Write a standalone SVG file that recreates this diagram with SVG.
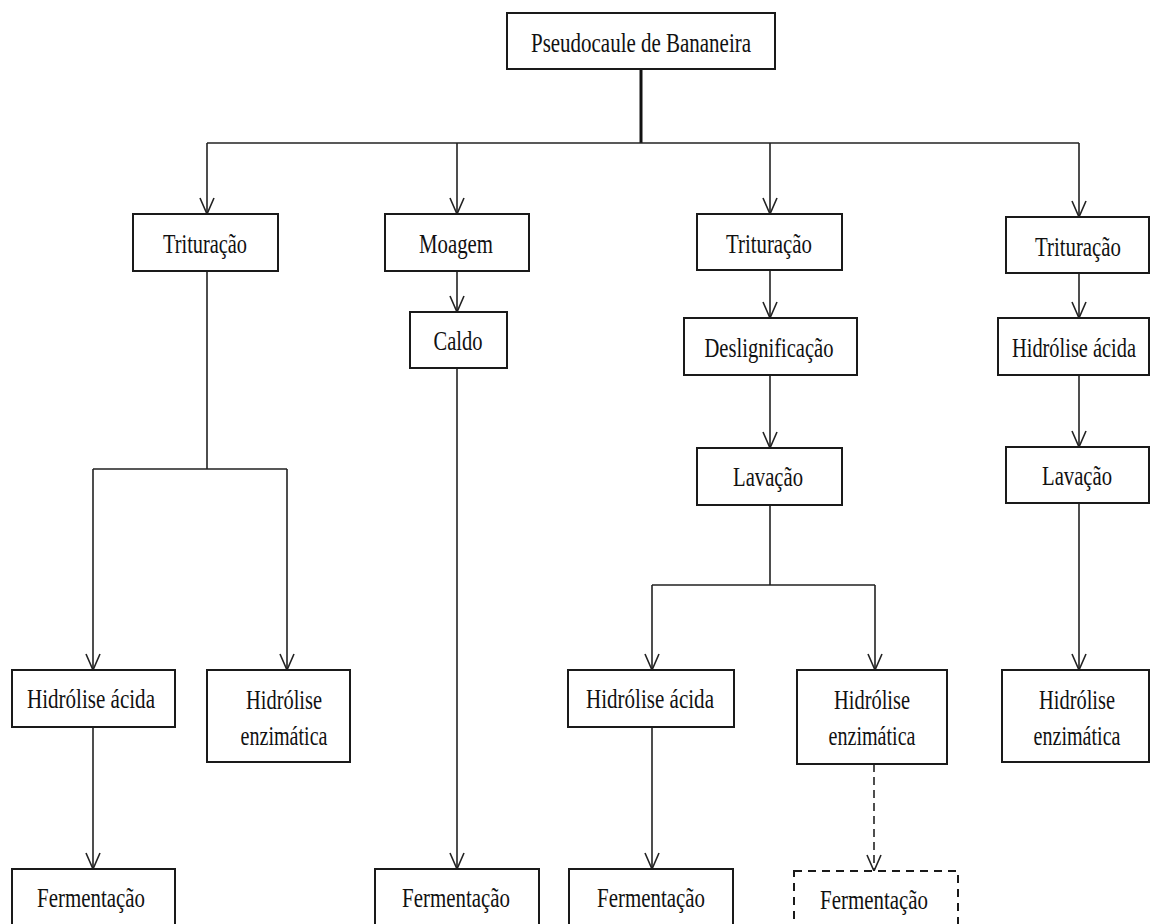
<svg xmlns="http://www.w3.org/2000/svg" width="1151" height="924" viewBox="0 0 1151 924">
<defs>
<style>
.box{fill:#fff;stroke:#1a1a1a;stroke-width:2}
.dbox{fill:#fff;stroke:#1a1a1a;stroke-width:2;stroke-dasharray:8 6}
.t{font-family:"Liberation Serif","Times New Roman",serif;font-size:27px;fill:#111;text-anchor:middle}
.c{fill:none;stroke:#222;stroke-width:1.6}
.a{marker-end:url(#arr)}
</style>
<marker id="arr" markerUnits="userSpaceOnUse" viewBox="-18 -9 20 18" refX="0" refY="0" markerWidth="20" markerHeight="18" orient="auto">
<path d="M-16,-7 L0,0 L-16,7" fill="none" stroke="#222" stroke-width="1.6"/>
</marker>
</defs>
<rect width="1151" height="924" fill="#fff"/>
<g id="connectors">
<path class="c" d="M641,69 V143" style="stroke-width:3;stroke:#111"/>
<path class="c" d="M207,143 H1079"/>
<path class="c a" d="M207,143 V214"/>
<path class="c a" d="M457,143 V214"/>
<path class="c a" d="M770,143 V214"/>
<path class="c a" d="M1079,143 V217"/>
<path class="c a" d="M457,271 V312"/>
<path class="c a" d="M457,368 V869"/>
<path class="c" d="M207,271 V469 M93,469 H287"/>
<path class="c a" d="M93,469 V670"/>
<path class="c a" d="M287,469 V670"/>
<path class="c a" d="M93,727 V869"/>
<path class="c a" d="M770,270 V318"/>
<path class="c a" d="M770,375 V448"/>
<path class="c" d="M770,505 V585 M652,585 H875"/>
<path class="c a" d="M652,585 V670"/>
<path class="c a" d="M875,585 V670"/>
<path class="c a" d="M652,727 V869"/>
<path class="c a" d="M874,764 V871" style="stroke-dasharray:8 5"/>
<path class="c a" d="M1079,273 V318"/>
<path class="c a" d="M1079,375 V447"/>
<path class="c a" d="M1079,503 V670"/>
</g>
<g id="n-pseudocaule"><rect class="box" x="507" y="13" width="268" height="56"/><text class="t" x="641" y="52" textLength="220" lengthAdjust="spacingAndGlyphs">Pseudocaule de Bananeira</text></g>
<g id="n-trit1"><rect class="box" x="133" y="214" width="145" height="57"/><text class="t" x="205" y="253" textLength="84" lengthAdjust="spacingAndGlyphs">Trituração</text></g>
<g id="n-moagem"><rect class="box" x="385" y="214" width="144" height="57"/><text class="t" x="456" y="253" textLength="74" lengthAdjust="spacingAndGlyphs">Moagem</text></g>
<g id="n-caldo"><rect class="box" x="410" y="312" width="97" height="56"/><text class="t" x="458" y="350" textLength="49" lengthAdjust="spacingAndGlyphs">Caldo</text></g>
<g id="n-trit3"><rect class="box" x="697" y="214" width="145" height="56"/><text class="t" x="769" y="253" textLength="86" lengthAdjust="spacingAndGlyphs">Trituração</text></g>
<g id="n-trit4"><rect class="box" x="1006" y="217" width="143" height="56"/><text class="t" x="1078" y="256" textLength="86" lengthAdjust="spacingAndGlyphs">Trituração</text></g>
<g id="n-deslig"><rect class="box" x="684" y="318" width="173" height="57"/><text class="t" x="769" y="357" textLength="129" lengthAdjust="spacingAndGlyphs">Deslignificação</text></g>
<g id="n-hacida4"><rect class="box" x="998" y="318" width="151" height="57"/><text class="t" x="1074" y="357" textLength="124" lengthAdjust="spacingAndGlyphs">Hidrólise ácida</text></g>
<g id="n-lav3"><rect class="box" x="697" y="448" width="145" height="57"/><text class="t" x="768" y="486" textLength="70" lengthAdjust="spacingAndGlyphs">Lavação</text></g>
<g id="n-lav4"><rect class="box" x="1006" y="447" width="143" height="56"/><text class="t" x="1077" y="485" textLength="70" lengthAdjust="spacingAndGlyphs">Lavação</text></g>
<g id="n-hacida1"><rect class="box" x="12" y="670" width="163" height="57"/><text class="t" x="91" y="708" textLength="128" lengthAdjust="spacingAndGlyphs">Hidrólise ácida</text></g>
<g id="n-henz1"><rect class="box" x="207" y="670" width="143" height="92"/><text class="t" x="284" y="709" textLength="76" lengthAdjust="spacingAndGlyphs">Hidrólise</text><text class="t" x="284" y="745" textLength="87" lengthAdjust="spacingAndGlyphs">enzimática</text></g>
<g id="n-hacida3"><rect class="box" x="568" y="670" width="166" height="57"/><text class="t" x="650" y="708" textLength="128" lengthAdjust="spacingAndGlyphs">Hidrólise ácida</text></g>
<g id="n-henz3"><rect class="box" x="797" y="670" width="150" height="94"/><text class="t" x="872" y="709" textLength="76" lengthAdjust="spacingAndGlyphs">Hidrólise</text><text class="t" x="872" y="745" textLength="87" lengthAdjust="spacingAndGlyphs">enzimática</text></g>
<g id="n-henz4"><rect class="box" x="1002" y="670" width="147" height="92"/><text class="t" x="1077" y="709" textLength="76" lengthAdjust="spacingAndGlyphs">Hidrólise</text><text class="t" x="1077" y="745" textLength="87" lengthAdjust="spacingAndGlyphs">enzimática</text></g>
<g id="n-ferm1"><rect class="box" x="12" y="869" width="163" height="70"/><text class="t" x="91" y="907" textLength="108" lengthAdjust="spacingAndGlyphs">Fermentação</text></g>
<g id="n-ferm2"><rect class="box" x="375" y="869" width="164" height="70"/><text class="t" x="456" y="907" textLength="108" lengthAdjust="spacingAndGlyphs">Fermentação</text></g>
<g id="n-ferm3"><rect class="box" x="569" y="869" width="164" height="70"/><text class="t" x="651" y="907" textLength="108" lengthAdjust="spacingAndGlyphs">Fermentação</text></g>
<g id="n-ferm4"><rect class="dbox" x="794" y="871" width="164" height="70"/><text class="t" x="874" y="909" textLength="108" lengthAdjust="spacingAndGlyphs">Fermentação</text></g>
</svg>
